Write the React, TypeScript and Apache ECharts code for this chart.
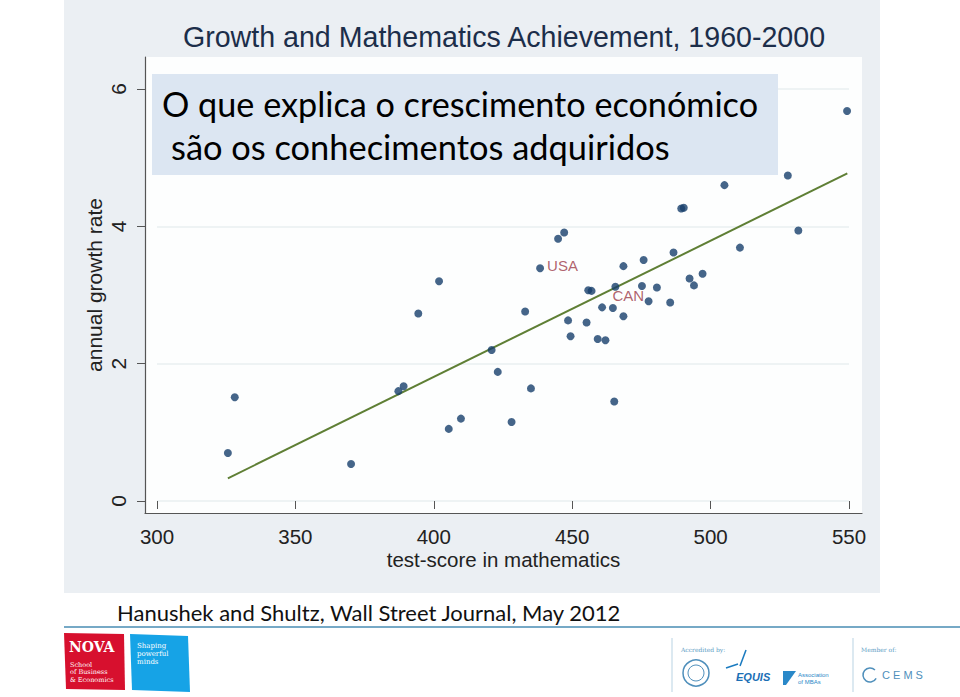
import React, { useEffect, useRef } from "react";
import * as echarts from "echarts";

const scores = [
  325.6, 328.1, 370.1, 387.2, 389.1, 394.4, 401.9, 405.4, 409.8, 420.9, 423.1,
  428.1, 435.1, 433.0, 444.9, 447.1, 448.5, 449.4, 455.2, 455.8, 457.0, 459.2,
  462.0, 460.8, 464.7, 465.2, 468.5, 468.5, 475.2, 475.8, 477.6, 480.6, 485.4,
  486.6, 489.4, 490.3, 492.4, 494.0, 497.1, 505.0, 510.6, 527.9, 531.7, 543.3,
  549.3,
];
const growth = [
  0.7, 1.51, 0.54, 1.6, 1.67, 2.73, 3.2, 1.05, 1.2, 2.2, 1.88,
  1.15, 1.64, 2.76, 3.82, 3.91, 2.63, 2.4, 2.6, 3.07, 3.06, 2.36,
  2.34, 2.82, 2.81, 1.45, 3.42, 2.69, 3.13, 3.51, 2.91, 3.11, 2.89,
  3.62, 4.26, 4.27, 3.24, 3.14, 3.31, 4.6, 3.69, 4.74, 3.94, 6.28,
  5.68,
];
const labelNames = ["USA", "CAN"];
const labelScores = [438.4, 465.6];
const labelGrowth = [3.39, 3.12];
const fitScores = [325.6, 549.4];
const fitGrowth = [0.33, 4.77];
const xTicks = { min: 300, max: 550, step: 50 };
const yTicks = { min: 0, max: 6, step: 2 };

const chartTitle = "Growth and Mathematics Achievement, 1960-2000";
const xName = "test-score in mathematics";
const yName = "annual growth rate";
const overlayLine1 = "O que explica o crescimento económico";
const overlayLine2 = "são os conhecimentos adquiridos";
const footerText = "Hanushek and Shultz, Wall Street Journal, May 2012";

export default function App() {
  const ref = useRef<HTMLDivElement>(null);
  useEffect(() => {
    if (!ref.current) return;
    const chart = echarts.init(ref.current, null, { renderer: "svg" });
    const axisFont = "Liberation Sans, Arial, sans-serif";
    const calibri = "Lato, 'Open Sans', sans-serif";
    const dotColor = "#173f6c";
    const pts = scores.map((s, i) => [s, growth[i]]);
    const labeled = labelNames.map((n, i) => ({
      value: [labelScores[i], labelGrowth[i]],
      name: n,
    }));
    chart.setOption({
      animation: false,
      backgroundColor: "#ffffff",
      grid: [
        {
          left: 145,
          right: 98,
          top: 57,
          bottom: 184,
          show: true,
          backgroundColor: "#fdfefe",
          borderWidth: 0,
        },
        { left: 157, right: 111, top: 89, bottom: 196 },
      ],
      xAxis: [
        {
          gridIndex: 0,
          type: "value",
          min: 0,
          max: 1,
          axisLine: { show: true, lineStyle: { color: "#555", width: 1.2 } },
          axisTick: { show: false },
          axisLabel: { show: false },
          splitLine: { show: false },
          name: xName,
          nameLocation: "middle",
          nameGap: 36,
          nameTextStyle: { fontFamily: axisFont, fontSize: 20.5, color: "#222" },
        },
        {
          gridIndex: 1,
          type: "value",
          min: xTicks.min,
          max: xTicks.max,
          interval: xTicks.step,
          offset: 12,
          axisLine: { show: false },
          axisTick: { show: true, length: 8, lineStyle: { color: "#555" } },
          axisLabel: {
            fontFamily: axisFont,
            fontSize: 20.5,
            color: "#222",
            margin: 13,
          },
          splitLine: { show: false },
        },
      ],
      yAxis: [
        {
          gridIndex: 0,
          type: "value",
          min: 0,
          max: 1,
          axisLine: { show: true, lineStyle: { color: "#555", width: 1.2 } },
          axisTick: { show: false },
          axisLabel: { show: false },
          splitLine: { show: false },
          name: yName,
          nameLocation: "middle",
          nameGap: 40,
          nameTextStyle: { fontFamily: axisFont, fontSize: 21, color: "#222" },
        },
        {
          gridIndex: 1,
          type: "value",
          min: yTicks.min,
          max: yTicks.max,
          interval: yTicks.step,
          offset: 12,
          axisLine: { show: false },
          axisTick: { show: true, length: 8, lineStyle: { color: "#555" } },
          axisLabel: {
            fontFamily: axisFont,
            fontSize: 21,
            color: "#222",
            rotate: 90,
            margin: 16,
          },
          splitLine: { show: true, lineStyle: { color: "#e8eff1", width: 1.5 } },
        },
      ],
      series: [
        {
          type: "line",
          xAxisIndex: 1,
          yAxisIndex: 1,
          data: fitScores.map((s, i) => [s, fitGrowth[i]]),
          showSymbol: false,
          lineStyle: { color: "#5f7f35", width: 2 },
          z: 2,
        },
        {
          type: "scatter",
          xAxisIndex: 1,
          yAxisIndex: 1,
          data: pts,
          symbolSize: 8,
          itemStyle: { color: dotColor },
          z: 3,
        },
        {
          type: "scatter",
          xAxisIndex: 1,
          yAxisIndex: 1,
          data: labeled,
          symbolSize: 8,
          itemStyle: { color: dotColor },
          label: {
            show: true,
            formatter: (p: any) => p.name,
            position: "right",
            distance: 3,
            fontFamily: axisFont,
            fontSize: 15,
            color: "#9c3a48",
          },
          labelLayout: (p: any) =>
            p.dataIndex === 1 ? { dx: -10, dy: 9 } : { dy: -3 },
          z: 4,
        },
      ],
      graphic: [
        {
          type: "rect",
          z: -10,
          shape: { x: 64, y: 0, width: 816, height: 593 },
          style: { fill: "#ebeff3" },
        },
        {
          type: "text",
          x: 504,
          y: 37,
          style: {
            text: chartTitle,
            fontFamily: axisFont,
            fontSize: 28.6,
            fill: "#1c2e4a",
            align: "center",
            verticalAlign: "middle",
          },
        },
        {
          type: "rect",
          z: 100,
          shape: { x: 152, y: 74, width: 626, height: 101 },
          style: { fill: "#dce6f2" },
        },
        {
          type: "text",
          z: 101,
          x: 162,
          y: 103,
          style: {
            text: overlayLine1,
            fontFamily: calibri,
            fontSize: 34.2,
            fill: "#000",
            verticalAlign: "middle",
          },
        },
        {
          type: "text",
          z: 101,
          x: 171,
          y: 146,
          style: {
            text: overlayLine2,
            fontFamily: calibri,
            fontSize: 34.4,
            fill: "#000",
            verticalAlign: "middle",
          },
        },
        {
          type: "text",
          x: 117,
          y: 612,
          style: {
            text: footerText,
            fontFamily: calibri,
            fontSize: 22,
            fill: "#111",
            verticalAlign: "middle",
          },
        },
        {
          type: "line",
          shape: { x1: 64, y1: 627, x2: 960, y2: 627 },
          style: { stroke: "#76a9c6", lineWidth: 2 },
        },
        {
          type: "polygon",
          shape: { points: [[64, 633], [124, 634], [125, 690], [66, 689]] },
          style: { fill: "#d7102e" },
        },
        {
          type: "text",
          x: 69,
          y: 647,
          style: {
            text: "NOVA",
            fontFamily: "DejaVu Serif, serif",
            fontWeight: "bold",
            fontSize: 14,
            fill: "#fff",
            verticalAlign: "middle",
          },
        },
        {
          type: "text",
          x: 70,
          y: 672,
          style: {
            text: "School\nof Business\n& Economics",
            fontFamily: "DejaVu Serif, serif",
            fontSize: 6.5,
            lineHeight: 7.5,
            fill: "#fff",
            verticalAlign: "middle",
          },
        },
        {
          type: "polygon",
          shape: { points: [[130, 634], [188, 636], [190, 692], [132, 690]] },
          style: { fill: "#16a3e6" },
        },
        {
          type: "text",
          x: 137,
          y: 654,
          style: {
            text: "Shaping\npowerful\nminds",
            fontFamily: "DejaVu Serif, serif",
            fontSize: 7,
            lineHeight: 8,
            fill: "#fff",
            verticalAlign: "middle",
          },
        },
        {
          type: "line",
          shape: { x1: 672, y1: 638, x2: 672, y2: 692 },
          style: { stroke: "#b9d3e3", lineWidth: 1 },
        },
        {
          type: "line",
          shape: { x1: 853, y1: 638, x2: 853, y2: 692 },
          style: { stroke: "#b9d3e3", lineWidth: 1 },
        },
        {
          type: "text",
          x: 681,
          y: 646,
          style: {
            text: "Accredited by:",
            fontFamily: "DejaVu Serif, serif",
            fontSize: 6,
            fill: "#5b9cc4",
          },
        },
        {
          type: "text",
          x: 861,
          y: 646,
          style: {
            text: "Member of:",
            fontFamily: "DejaVu Serif, serif",
            fontSize: 6,
            fill: "#5b9cc4",
          },
        },
        {
          type: "circle",
          shape: { cx: 696, cy: 673, r: 13 },
          style: { fill: "none", stroke: "#4f8fbb", lineWidth: 1.5 },
        },
        {
          type: "circle",
          shape: { cx: 696, cy: 673, r: 8 },
          style: { fill: "none", stroke: "#4f8fbb", lineWidth: 1 },
        },
        {
          type: "line",
          shape: { x1: 740, y1: 666, x2: 746, y2: 650 },
          style: { stroke: "#1b7bc0", lineWidth: 1.5 },
        },
        {
          type: "line",
          shape: { x1: 726, y1: 668, x2: 738, y2: 664 },
          style: { stroke: "#1b7bc0", lineWidth: 1.5 },
        },
        {
          type: "text",
          x: 736,
          y: 677,
          style: {
            text: "EQUIS",
            fontFamily: axisFont,
            fontStyle: "italic",
            fontWeight: "bold",
            fontSize: 11,
            fill: "#1b6fb5",
            verticalAlign: "middle",
          },
        },
        {
          type: "polygon",
          shape: { points: [[783, 671], [796, 671], [786, 685], [783, 685]] },
          style: { fill: "#2a88c8" },
        },
        {
          type: "text",
          x: 798,
          y: 678,
          style: {
            text: "Association\nof MBAs",
            fontFamily: axisFont,
            fontSize: 6,
            lineHeight: 7,
            fill: "#2a88c8",
            verticalAlign: "middle",
          },
        },
        {
          type: "arc",
          shape: { cx: 870, cy: 675, r: 7, startAngle: 0.5, endAngle: 5.5 },
          style: { stroke: "#4f8fbb", lineWidth: 1.5, fill: "none" },
        },
        {
          type: "text",
          x: 882,
          y: 675,
          style: {
            text: "C E M S",
            fontFamily: axisFont,
            fontSize: 11,
            fill: "#4f8fbb",
            verticalAlign: "middle",
          },
        },
      ],
    });
    return () => chart.dispose();
  }, []);
  return (
    <div
      ref={ref}
      style={{ position: "absolute", left: 0, top: 0, width: 960, height: 697 }}
    />
  );
}
